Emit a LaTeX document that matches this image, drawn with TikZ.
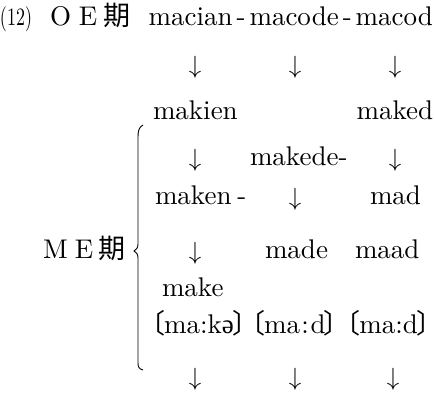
\documentclass[tikz,border=0pt]{standalone}
\usepackage{fontspec}
\setmainfont{lmroman10-regular.otf}
\newfontfamily\cjk{Noto Sans CJK JP}
\newfontfamily\ipa{Liberation Serif}
\newcommand{\lbr}{\kern-0.42em{\cjk 〔}\kern-0.06em}
\newcommand{\rbr}{\kern-0.06em{\cjk 〕}\kern-0.34em}
\begin{document}
\begin{tikzpicture}[x=1pt,y=-1pt,
  every node/.style={inner sep=0pt,outer sep=0pt,font=\fontsize{27}{31}\selectfont},
  word/.style={anchor=base west},
  wordr/.style={anchor=base east},
  arr/.style={anchor=base,font=\fontsize{23}{27}\selectfont},
  brace/.style={line width=0.9pt}]
\useasboundingbox (0,0) rectangle (434,395);
% row 1
\node[word] (num) at (0,26) {\fontsize{25}{28}\selectfont\scalebox{0.72}[1]{(12)}};
\node[word] (oe) at (50,26) {O\hspace{8pt}E\hspace{6pt}{\cjk 期}};
\node[wordr] (r1) at (433,26) {macian\hspace{4pt}-\hspace{4pt}macode\hspace{4pt}-\hspace{4pt}macod};
% row 2 arrows
\node[arr] (a21) at (195,74) {$\downarrow$};
\node[arr] (a22) at (295,74) {$\downarrow$};
\node[arr] (a23) at (395,74) {$\downarrow$};
% row 3
\node[word] (makien) at (153,120) {makien};
\node[wordr] (maked) at (433,120) {maked};
% row 4
\node[arr] (a41) at (195,167) {$\downarrow$};
\node[word] (makede) at (250,166) {makede-};
\node[arr] (a43) at (395,167) {$\downarrow$};
% row 5
\node[word] (maken) at (155,205) {maken\hspace{6pt}-};
\node[arr] (a52) at (295,206) {$\downarrow$};
\node[word] (mad) at (370,205) {mad};
% row 6
\node[word] (me) at (43,259) {M\hspace{7pt}E\hspace{5pt}{\cjk 期}};
\node[arr] (a61) at (195,260) {$\downarrow$};
\node[word] (made) at (265,259) {made};
\node[word] (maad) at (355,259) {maad};
% row 7
\node[word] (make) at (162,297) {make};
% row 8
\node[word] (p1) at (150,334) {\lbr ma:k{\ipa ə}\rbr};
\node[word] (p2) at (p1.base east) [xshift=0pt] {\lbr ma\hspace{1.5pt}:\hspace{1.5pt}d\rbr};
\node[wordr] (p3) at (434,334) {\lbr ma:d\rbr};
% row 9 arrows
\node[arr] (a91) at (195,386) {$\downarrow$};
\node[arr] (a92) at (295,386) {$\downarrow$};
\node[arr] (a93) at (393,386) {$\downarrow$};
% brace
\coordinate (bt) at (143,125);
\coordinate (bm) at (134,251);
\coordinate (bb) at (143,370);
\draw[brace] (bt) .. controls (139,127) and (138,131) .. (138,137)
  -- (138,244) .. controls (138,248) and (136,250) .. (bm)
  .. controls (136,252) and (138,254) .. (138,258)
  -- (138,363) .. controls (138,367) and (139,369) .. (bb);
\end{tikzpicture}
\end{document}
